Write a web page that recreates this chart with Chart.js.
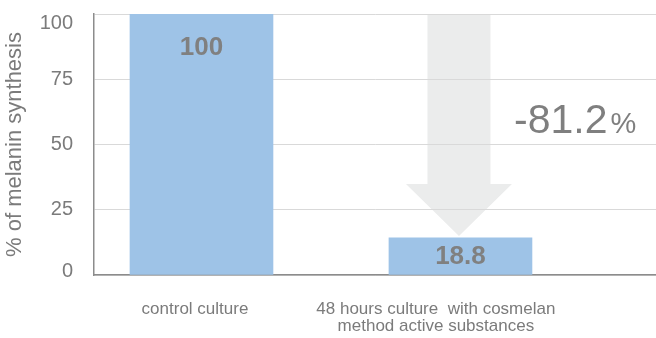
<!DOCTYPE html>
<html>
<head>
<meta charset="utf-8">
<script src="https://cdn.jsdelivr.net/npm/chart.js@4/dist/chart.umd.min.js"></script>
<style>
  html, body { margin: 0; padding: 0; background: #ffffff; }
  #wrap { width: 656px; height: 338px; position: relative; }
</style>
</head>
<body>
<div id="wrap"><canvas id="c" width="656" height="338"></canvas></div>
<script>
// ---- data ----
const categories = [
  ["control culture"],
  ["48 hours culture  with cosmelan", "method active substances"]
];
const barValues = [100, 14.2];
const valueLabels = ["100", "18.8"];
const yTicks = [0, 25, 50, 75, 100];
const changeNumber = "-81.2";
const changeUnit = "%";

// ---- style ----
const FONT = "'Liberation Sans', Arial, Helvetica, sans-serif";
const GREY = "#7b7b7b";
const BAR = "#9ec3e7";
const ARROW = "#ebecec";
const labelNudge = [-0.025, -0.095];

Chart.defaults.font.family = FONT;
Chart.defaults.color = GREY;

const arrowPlugin = {
  id: 'arrowPlugin',
  beforeDraw(chart) {
    const xs = chart.scales.x, ys = chart.scales.y, ctx = chart.ctx;
    const cx = xs.getPixelForValue(1) - 1.5;
    const top = ys.getPixelForValue(100);
    const tip = ys.getPixelForValue(barValues[1]) - 2;
    const neck = tip - 52;
    const sw = 31.5, hw = 53;
    ctx.save();
    ctx.fillStyle = ARROW;
    ctx.beginPath();
    ctx.moveTo(cx - sw, top);
    ctx.lineTo(cx + sw, top);
    ctx.lineTo(cx + sw, neck);
    ctx.lineTo(cx + hw, neck);
    ctx.lineTo(cx, tip);
    ctx.lineTo(cx - hw, neck);
    ctx.lineTo(cx - sw, neck);
    ctx.closePath();
    ctx.fill();
    ctx.restore();
  }
};

const labelPlugin = {
  id: 'labelPlugin',
  afterDatasetsDraw(chart) {
    const ctx = chart.ctx;
    const meta = chart.getDatasetMeta(0);
    ctx.save();
    ctx.font = "bold 26px " + FONT;
    ctx.fillStyle = "#808080";
    ctx.textAlign = "center";
    ctx.textBaseline = "middle";
    meta.data.forEach((bar, i) => {
      const y = Math.min(bar.y + 33, (bar.y + bar.base) / 2);
      ctx.fillText(valueLabels[i], bar.x, y + 1);
    });
    ctx.restore();
  },
  afterDraw(chart) {
    const ctx = chart.ctx, a = chart.chartArea, ys = chart.scales.y;
    ctx.save();
    // y tick labels, kept inside the plot's vertical range
    ctx.font = "20px " + FONT;
    ctx.fillStyle = GREY;
    ctx.textAlign = "right";
    ctx.textBaseline = "middle";
    yTicks.forEach(v => {
      let y = ys.getPixelForValue(v);
      y = Math.max(a.top + 9.5, Math.min(a.bottom - 3.5, y));
      ctx.fillText(String(v), a.left - 21, y);
    });
    // change annotation
    ctx.textAlign = "left";
    ctx.textBaseline = "alphabetic";
    ctx.fillStyle = "#7f7f7f";
    ctx.font = "41px " + FONT;
    const x0 = a.right - 142;
    const by = ys.getPixelForValue(54.5);
    ctx.fillText(changeNumber, x0, by);
    const w = ctx.measureText(changeNumber).width;
    ctx.font = "29px " + FONT;
    ctx.fillText(changeUnit, x0 + w + 3, by);
    ctx.restore();
  }
};

new Chart(document.getElementById('c'), {
  type: 'bar',
  data: {
    datasets: [{
      data: barValues.map((v, i) => ({ x: i, y: v })),
      backgroundColor: BAR,
      borderWidth: 0,
      barThickness: 143
    }]
  },
  options: {
    responsive: false,
    animation: false,
    devicePixelRatio: 1,
    layout: { padding: { top: 14, right: 0, left: 0, bottom: 0 } },
    plugins: { legend: { display: false }, tooltip: { enabled: false } },
    scales: {
      x: {
        type: 'linear',
        min: -0.415,
        max: 1.755,
        offset: false,
        grid: { display: false, drawTicks: false, offset: false },
        border: { display: true, color: '#8c8c8c', width: 1.5 },
        afterBuildTicks: axis => {
          axis.ticks = categories.map((c, i) => ({ value: i + labelNudge[i] }));
        },
        afterFit: s => { s.height = 63; },
        ticks: {
          autoSkip: false,
          maxRotation: 0,
          padding: 25,
          color: GREY,
          font: { size: 17, lineHeight: 1.05 },
          callback: (v, idx) => categories[idx]
        }
      },
      y: {
        min: 0,
        max: 100,
        afterBuildTicks: axis => { axis.ticks = yTicks.map(v => ({ value: v })); },
        afterFit: s => { s.width = 94; },
        grid: { color: '#d9d9d9', lineWidth: 1, drawTicks: false },
        border: { display: true, color: '#8c8c8c', width: 1.5 },
        ticks: { display: false },
        title: {
          display: true,
          text: '% of melanin synthesis',
          color: GREY,
          font: { size: 22 },
          padding: { top: 2, bottom: 0 }
        }
      }
    }
  },
  plugins: [arrowPlugin, labelPlugin]
});
</script>
</body>
</html>
